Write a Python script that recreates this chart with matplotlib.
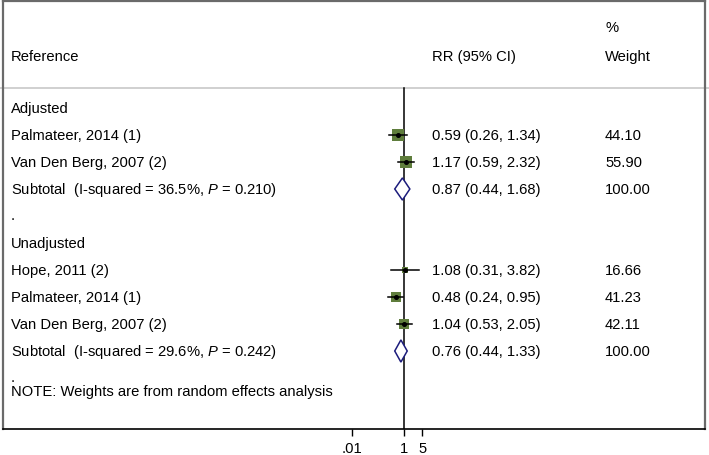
import matplotlib
matplotlib.use("Agg")
import matplotlib.pyplot as plt
import matplotlib.transforms as mtransforms
from matplotlib.patches import Polygon
import numpy as np

plt.rcParams['font.family'] = ['Liberation Sans', 'DejaVu Sans']
plt.rcParams['mathtext.fontset'] = 'custom'
plt.rcParams['mathtext.rm'] = 'Liberation Sans'
plt.rcParams['mathtext.it'] = 'Liberation Sans:italic'

# study rows: (row index, label, rr, lo, hi, weight)
study_rows = [1, 2, 6, 7, 8]
study_labels = ["Palmateer, 2014 (1)", "Van Den Berg, 2007 (2)",
                "Hope, 2011 (2)", "Palmateer, 2014 (1)", "Van Den Berg, 2007 (2)"]
study_rr = [0.59, 1.17, 1.08, 0.48, 1.04]
study_lo = [0.26, 0.59, 0.31, 0.24, 0.53]
study_hi = [1.34, 2.32, 3.82, 0.95, 2.05]
study_w = [44.10, 55.90, 16.66, 41.23, 42.11]

# subtotal rows
sub_rows = [3, 9]
sub_labels = ["Subtotal  (I-squared = 36.5%, $\\it{P}$ = 0.210)",
              "Subtotal  (I-squared = 29.6%, $\\it{P}$ = 0.242)"]
sub_rr = [0.87, 0.76]
sub_lo = [0.44, 0.44]
sub_hi = [1.68, 1.33]
sub_w = [100.00, 100.00]

group_rows = [0, 5]
group_labels = ["Adjusted", "Unadjusted"]
dot_rows = [4, 10]

xticks = [0.01, 1, 5]
xtick_labels = [".01", "1", "5"]

W, H = 709, 456
fig = plt.figure(figsize=(W / 100, H / 100), dpi=100)
ax = fig.add_axes([3 / W, (H - 430) / H, (705 - 3) / W, (430 - 2) / H])

# 26 px per decade, value 1 at pixel 404
ppd = 26.0
ax.set_xscale('log')
ax.set_xlim(10 ** ((3 - 404) / ppd), 10 ** ((705 - 404) / ppd))
row0, step = 109.0, 27.0
ax.set_ylim((430 - row0) / step, (2 - row0) / step)

fs = 10.6
tr = mtransforms.blended_transform_factory(fig.transFigure, ax.transData)
x_lab, x_rr, x_w = 11 / W, 432 / W, 605 / W

def prow(py):
    return (py - row0) / step

# header
ax.text(x_lab, prow(57), "Reference", transform=tr, fontsize=fs, va='center')
ax.text(x_rr, prow(57), "RR (95% CI)", transform=tr, fontsize=fs, va='center')
ax.text(x_w, prow(57), "Weight", transform=tr, fontsize=fs, va='center')
ax.text(x_w, prow(28), "%", transform=tr, fontsize=fs, va='center')
ax.plot([0, 1], [prow(89), prow(89)], transform=tr, color='#c8c8c8', lw=1.2,
        clip_on=False)

# null line
ax.plot([1, 1], [prow(89), ax.get_ylim()[0]], color='black', lw=1.1)

for r, lab in zip(group_rows, group_labels):
    ax.text(x_lab, r, lab, transform=tr, fontsize=fs, va='center')
for r in dot_rows:
    ax.text(x_lab, r - 0.02, ".", transform=tr, fontsize=fs, va='center')
ax.text(x_lab, 10.5, "NOTE: Weights are from random effects analysis",
        transform=tr, fontsize=fs, va='center')

for r, lab, rr, lo, hi, w in zip(study_rows, study_labels, study_rr,
                                 study_lo, study_hi, study_w):
    ax.plot(rr, r, marker='s', markersize=1.2 * np.sqrt(w),
            color='#5f7d3c', markeredgewidth=0, zorder=3)
    ax.plot([lo, hi], [r, r], color='black', lw=1.1, zorder=4)
    ax.plot(rr, r, marker='o', markersize=2.6, color='black', zorder=5)
    ax.text(x_lab, r, lab, transform=tr, fontsize=fs, va='center')
    ax.text(x_rr, r, f"{rr:.2f} ({lo:.2f}, {hi:.2f})", transform=tr,
            fontsize=fs, va='center')
    ax.text(x_w, r, f"{w:.2f}", transform=tr, fontsize=fs, va='center')

for r, lab, rr, lo, hi, w in zip(sub_rows, sub_labels, sub_rr,
                                 sub_lo, sub_hi, sub_w):
    dh = 0.41
    ax.add_patch(Polygon([[lo, r], [rr, r - dh], [hi, r], [rr, r + dh]],
                         closed=True, facecolor='white', edgecolor='#1c1c7c',
                         lw=1.1, zorder=4))
    ax.text(x_lab, r, lab, transform=tr, fontsize=fs, va='center')
    ax.text(x_rr, r, f"{rr:.2f} ({lo:.2f}, {hi:.2f})", transform=tr,
            fontsize=fs, va='center')
    ax.text(x_w, r, f"{w:.2f}", transform=tr, fontsize=fs, va='center')

ax.set_xticks(xticks)
ax.set_xticklabels(xtick_labels, fontsize=fs)
ax.xaxis.set_minor_locator(matplotlib.ticker.NullLocator())
ax.tick_params(axis='x', direction='out', length=5, width=1, pad=4)
ax.set_yticks([])
for s in ['left', 'right', 'top']:
    ax.spines[s].set_color('#6a6a6a')
    ax.spines[s].set_linewidth(1.6)
ax.spines['bottom'].set_color('black')
ax.spines['bottom'].set_linewidth(1.2)

fig.savefig("out.png", dpi=100)
